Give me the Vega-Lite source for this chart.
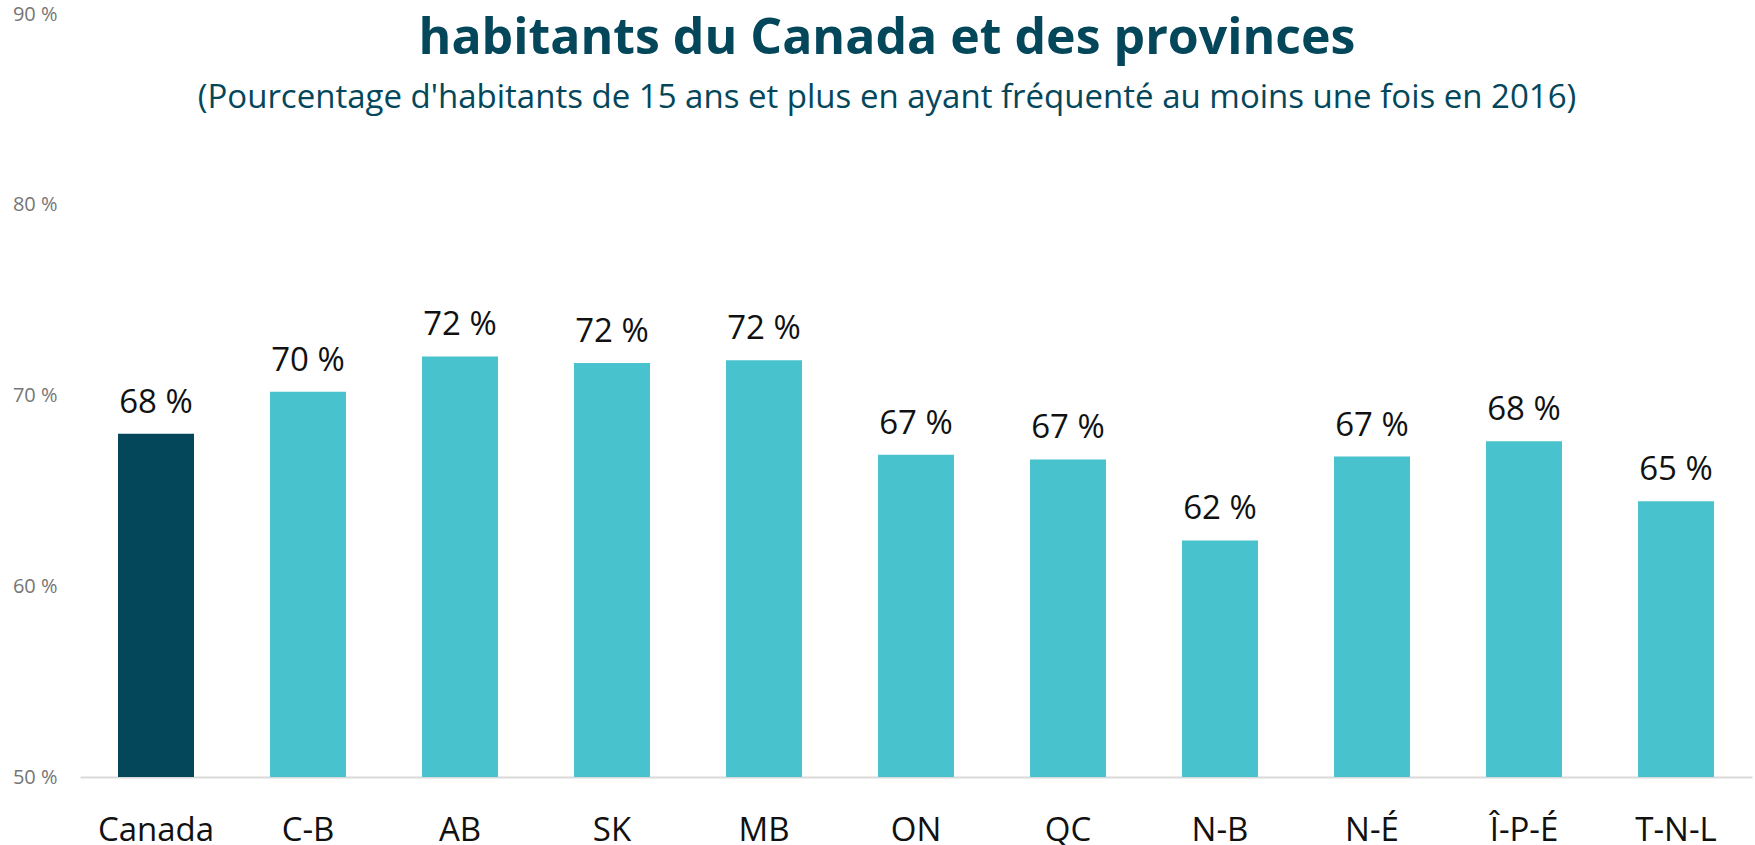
{
  "$schema": "https://vega.github.io/schema/vega-lite/v6.json",
  "autosize": "none",
  "width": 1672,
  "height": 763,
  "padding": {"left": 80, "top": 14, "right": 3, "bottom": 68},
  "background": "white",
  "title": {
    "text": "habitants du Canada et des provinces",
    "subtitle": "(Pourcentage d'habitants de 15 ans et plus en ayant fréquenté au moins une fois en 2016)",
    "anchor": "middle",
    "frame": "group",
    "dx": -29,
    "dy": 115,
    "font": "Open Sans",
    "fontSize": 50,
    "fontWeight": "bold",
    "color": "#04475B",
    "subtitleFont": "Open Sans",
    "subtitleFontSize": 33,
    "subtitleColor": "#04475B",
    "subtitlePadding": 18
  },
  "data": {
    "values": [
      {"region": "Canada", "value": 68.0, "label": "68 %", "group": "Canada"},
      {"region": "C-B", "value": 70.2, "label": "70 %", "group": "Province"},
      {"region": "AB", "value": 72.05, "label": "72 %", "group": "Province"},
      {"region": "SK", "value": 71.7, "label": "72 %", "group": "Province"},
      {"region": "MB", "value": 71.85, "label": "72 %", "group": "Province"},
      {"region": "ON", "value": 66.9, "label": "67 %", "group": "Province"},
      {"region": "QC", "value": 66.65, "label": "67 %", "group": "Province"},
      {"region": "N-B", "value": 62.4, "label": "62 %", "group": "Province"},
      {"region": "N-É", "value": 66.8, "label": "67 %", "group": "Province"},
      {"region": "Î-P-É", "value": 67.6, "label": "68 %", "group": "Province"},
      {"region": "T-N-L", "value": 64.45, "label": "65 %", "group": "Province"}
    ]
  },
  "encoding": {
    "x": {
      "field": "region",
      "type": "nominal",
      "sort": null,
      "scale": {"paddingInner": 0.5, "paddingOuter": 0.25},
      "axis": {
        "title": null,
        "labelAngle": 0,
        "labelFont": "Open Sans",
        "labelFontSize": 33,
        "labelColor": "#111111",
        "labelBaseline": "alphabetic",
        "labelPadding": 63,
        "ticks": false,
        "domainColor": "#D9D9D9",
        "domainWidth": 2
      }
    },
    "y": {
      "field": "value",
      "type": "quantitative",
      "scale": {"domain": [50, 90], "nice": false, "zero": false},
      "axis": {
        "title": null,
        "values": [50, 60, 70, 80, 90],
        "labelExpr": "datum.value + ' %'",
        "labelFont": "Open Sans",
        "labelFontSize": 20,
        "labelColor": "#767676",
        "labelPadding": 23,
        "ticks": false,
        "domain": false,
        "grid": false
      }
    }
  },
  "layer": [
    {
      "mark": {"type": "bar", "clip": true},
      "encoding": {
        "color": {
          "field": "group",
          "type": "nominal",
          "scale": {"domain": ["Canada", "Province"], "range": ["#04475B", "#48C2CD"]},
          "legend": null
        }
      }
    },
    {
      "mark": {"type": "text", "font": "Open Sans", "fontSize": 33, "color": "#111111", "baseline": "alphabetic", "dy": -21},
      "encoding": {"text": {"field": "label"}}
    }
  ],
  "config": {"view": {"stroke": null}}
}
